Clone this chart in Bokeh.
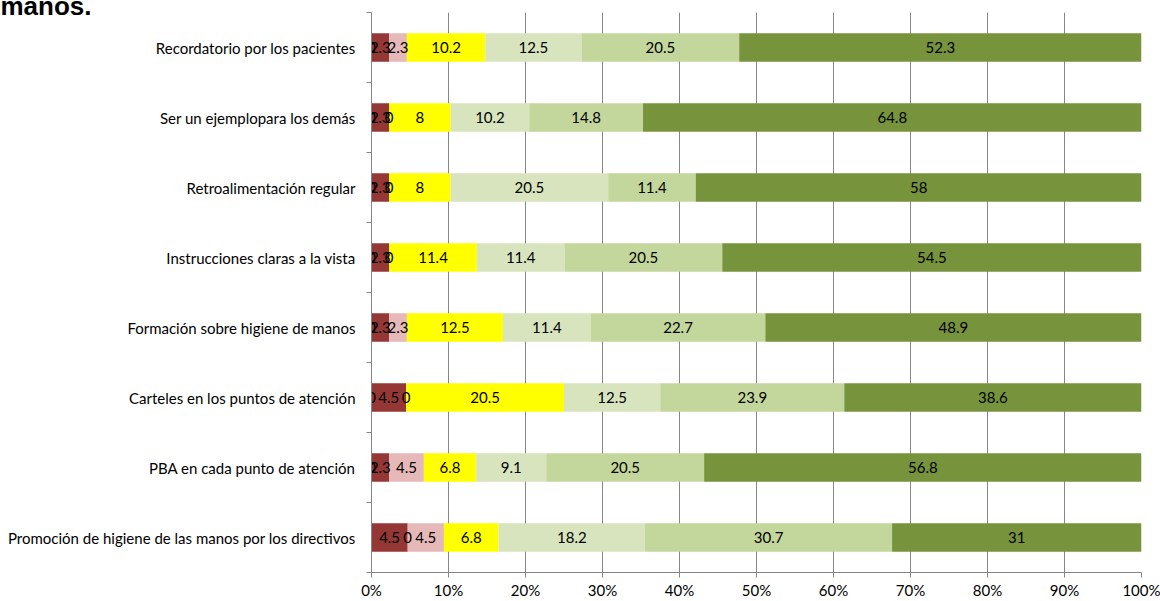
from bokeh.plotting import figure
from bokeh.models import ColumnDataSource, FixedTicker
from bokeh.core.properties import value
from bokeh.embed import file_html
from bokeh.resources import INLINE

# Rows, listed from top to bottom
categories = [
    "Recordatorio por los pacientes",
    "Ser un ejemplopara los demás",
    "Retroalimentación regular",
    "Instrucciones claras a la vista",
    "Formación sobre higiene de manos",
    "Carteles en los puntos de atención",
    "PBA en cada punto de atención",
    "Promoción de higiene de las manos por los directivos",
]

# Percentage of answers per level, same row order
nivel_1 = [0, 0, 0, 0, 0, 0, 0, 4.5]
nivel_2 = [2.3, 2.3, 2.3, 2.3, 2.3, 4.5, 2.3, 0]
nivel_3 = [2.3, 0, 0, 0, 2.3, 0, 4.5, 4.5]
nivel_4 = [10.2, 8, 8, 11.4, 12.5, 20.5, 6.8, 6.8]
nivel_5 = [12.5, 10.2, 20.5, 11.4, 11.4, 12.5, 9.1, 18.2]
nivel_6 = [20.5, 14.8, 11.4, 20.5, 22.7, 23.9, 20.5, 30.7]
nivel_7 = [52.3, 64.8, 58, 54.5, 48.9, 38.6, 56.8, 31]

x_ticks = [0, 10, 20, 30, 40, 50, 60, 70, 80, 90, 100]
x_tick_labels = ["0%", "10%", "20%", "30%", "40%", "50%", "60%", "70%", "80%", "90%", "100%"]

series = [nivel_1, nivel_2, nivel_3, nivel_4, nivel_5, nivel_6, nivel_7]
keys = ["n1", "n2", "n3", "n4", "n5", "n6", "n7"]
colors = ["#953735", "#953735", "#E6B9B8", "#FFFF00", "#D7E4BD", "#C3D69B", "#77933C"]

n = len(categories)
ypos = [n - 0.5 - i for i in range(n)]
totals = [sum(s[i] for s in series) for i in range(n)]

# 100% stacked: each row is scaled to its own total
data = {"y": ypos}
for k, s in zip(keys, series):
    data[k] = [100.0 * v / t for v, t in zip(s, totals)]
src = ColumnDataSource(data)

# segment centres for the value labels
lx, ly, lt = [], [], []
for i in range(n):
    left = 0.0
    for s in series:
        w = 100.0 * s[i] / totals[i]
        lx.append(left + w / 2)
        ly.append(ypos[i])
        lt.append(f"{s[i]:g}")
        left += w
lab_src = ColumnDataSource(dict(x=lx, y=ly, t=lt))

FONT = "Lato"
FSIZE = "15px"
GRID = "#868686"

p = figure(
    width=1160, height=601,
    x_range=(0, 100), y_range=(0, n),
    output_backend="svg", toolbar_location=None,
    min_border_left=371, min_border_right=19,
    min_border_top=12, min_border_bottom=27,
    title="manos.",
)
p.outline_line_color = None
p.background_fill_color = "white"

# heading carried over from the page above, partly cut at the top edge
p.title.text_font = "Liberation Sans"
p.title.text_font_style = "bold"
p.title.text_font_size = "26px"
p.title.text_color = "#000000"
p.title.align = "left"
p.title.vertical_align = "top"
p.title.offset = -371
p.title.standoff = -21

p.hbar_stack(keys, y="y", height=0.41, fill_color=colors, line_color=None, source=src)

p.text(x="x", y="y", text="t", source=lab_src,
       text_align="center", text_baseline="middle",
       text_font=value(FONT), text_font_size=FSIZE, text_color="#000000")

# x axis
p.xaxis.ticker = FixedTicker(ticks=x_ticks)
p.xaxis.major_label_overrides = {t: l for t, l in zip(x_ticks, x_tick_labels)}
p.xaxis.axis_line_color = GRID
p.xaxis.major_tick_line_color = GRID
p.xaxis.major_tick_out = 5
p.xaxis.major_tick_in = 0
p.xaxis.minor_tick_line_color = None
p.xaxis.major_label_standoff = 3
p.xaxis.major_label_text_font = FONT
p.xaxis.major_label_text_font_size = FSIZE
p.xaxis.major_label_text_color = "#000000"

p.xgrid.ticker = FixedTicker(ticks=x_ticks)
p.xgrid.grid_line_color = GRID
p.ygrid.grid_line_color = None

# y axis: names at row centres, small ticks between rows
p.yaxis.ticker = FixedTicker(ticks=ypos, minor_ticks=list(range(n + 1)))
p.yaxis.major_label_overrides = {y: c for y, c in zip(ypos, categories)}
p.yaxis.axis_line_color = GRID
p.yaxis.major_tick_line_color = None
p.yaxis.major_tick_out = 0
p.yaxis.major_tick_in = 0
p.yaxis.minor_tick_line_color = GRID
p.yaxis.minor_tick_out = 5
p.yaxis.minor_tick_in = 0
p.yaxis.major_label_standoff = 11
p.yaxis.major_label_text_font = FONT
p.yaxis.major_label_text_font_size = FSIZE
p.yaxis.major_label_text_color = "#000000"

open("out.html", "w").write(file_html(p, INLINE))
